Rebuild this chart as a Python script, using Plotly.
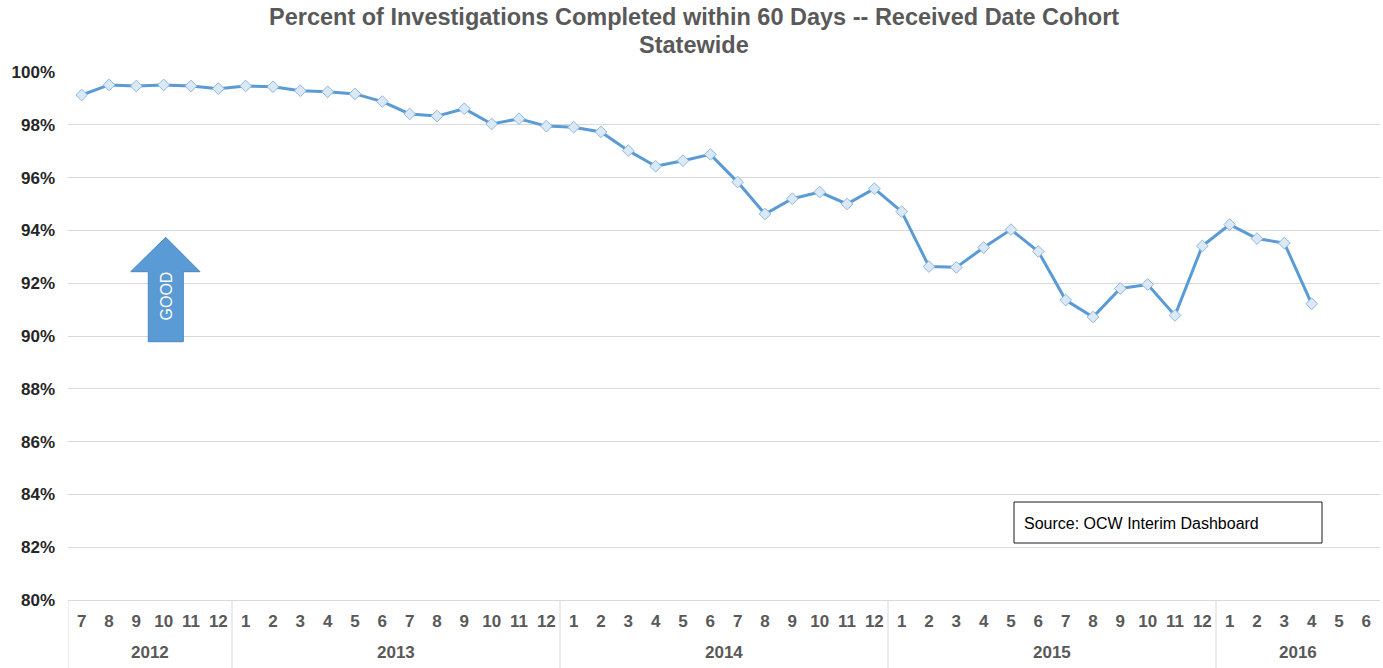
import plotly.graph_objects as go

# ---- data ----
years = ["2012"] * 6 + ["2013"] * 12 + ["2014"] * 12 + ["2015"] * 12 + ["2016"] * 6
months = ([str(m) for m in range(7, 13)] + [str(m) for m in range(1, 13)] * 3
          + [str(m) for m in range(1, 7)])
pct_completed = [
    99.13, 99.51, 99.47, 99.51, 99.47, 99.37,
    99.47, 99.44, 99.29, 99.25, 99.17, 98.88, 98.41, 98.33, 98.61, 98.03, 98.23, 97.95,
    97.91, 97.73, 97.02, 96.43, 96.64, 96.88, 95.83, 94.62, 95.20, 95.45, 95.00, 95.58,
    94.71, 92.63, 92.60, 93.35, 94.03, 93.20, 91.36, 90.72, 91.80, 91.95, 90.78, 93.41,
    94.22, 93.69, 93.52, 91.22,
]
y_ticks = list(range(80, 101, 2))
y_ticklabels = [f"{v}%" for v in y_ticks]
title_lines = ["Percent of Investigations Completed within 60 Days -- Received Date Cohort",
               "Statewide"]
source_text = "Source: OCW Interim Dashboard"

W, H = 1383, 668
L, R, T, B = 68, 3, 72, 68
FONT = "Arial, Liberation Sans, sans-serif"

n = len(months)
xi = list(range(n))


def px_x(p):
    return (p - L) / (W - L - R)


def px_y(p):
    return 1 - (p - T) / (H - T - B)


fig = go.Figure()
fig.add_trace(go.Scatter(
    x=xi[:len(pct_completed)], y=pct_completed, mode="lines+markers",
    line=dict(color="#5b9bd5", width=3),
    marker=dict(symbol="diamond", size=9, color="#dbe8f6",
                line=dict(color="#8fb8e2", width=1)),
    showlegend=False, hoverinfo="y",
))

# year groups: labels and dividers
groups = []
for i, yv in enumerate(years):
    if not groups or groups[-1][0] != yv:
        groups.append([yv, i, i])
    else:
        groups[-1][2] = i
for yv, a, b in groups:
    fig.add_annotation(text=yv, x=(a + b) / 2, xref="x", y=px_y(652), yref="paper",
                       showarrow=False, yanchor="middle",
                       font=dict(family=FONT, size=17, color="#595959", weight="bold"))
    fig.add_shape(type="line", xref="x", yref="paper", x0=a - 0.5, x1=a - 0.5,
                  y0=0, y1=px_y(H + 2), line=dict(color="#d9d9d9", width=1))

# GOOD arrow
arrow = [(165.7, 237.3), (200, 271.7), (183.3, 271.7), (183.3, 341.7),
         (148.3, 341.7), (148.3, 271.7), (130.7, 271.7)]
path = "M " + " L ".join(f"{px_x(x):.5f},{px_y(y):.5f}" for x, y in arrow) + " Z"
fig.add_shape(type="path", path=path, xref="paper", yref="paper",
              fillcolor="#5b9bd5", line=dict(color="#4a86bd", width=1))
fig.add_annotation(text="GOOD", x=px_x(155), y=px_y(296), xref="paper", yref="paper",
                   showarrow=False, textangle=-90,
                   font=dict(family=FONT, size=16, color="white"))

# source box
fig.add_shape(type="rect", xref="paper", yref="paper",
              x0=px_x(1014), x1=px_x(1322), y0=px_y(543), y1=px_y(502),
              line=dict(color="#1a1a1a", width=1), fillcolor="white")
fig.add_annotation(text=source_text, x=px_x(1022), y=px_y(523), xref="paper", yref="paper",
                   xanchor="left", yanchor="middle", showarrow=False,
                   font=dict(family=FONT, size=16, color="black"))

# title lines
for txt, ypx in zip(title_lines, [17, 45]):
    fig.add_annotation(text=txt, x=px_x(694), xref="paper", y=px_y(ypx), yref="paper",
                       showarrow=False, xanchor="center", yanchor="middle",
                       font=dict(family=FONT, size=23.5, color="#595959", weight="bold"))

fig.update_layout(
    width=W, height=H,
    margin=dict(l=L, r=R, t=T, b=B, autoexpand=False),
    paper_bgcolor="white", plot_bgcolor="white",
    font=dict(family=FONT),
)
fig.update_yaxes(
    range=[80, 100], tickvals=y_ticks, ticktext=y_ticklabels,
    showgrid=True, gridcolor="#d9d9d9", gridwidth=1, automargin=False,
    zeroline=False, showline=False, ticks="", ticklabelstandoff=12,
    tickfont=dict(family=FONT, size=17, color="#262626", weight="bold"),
)
fig.update_xaxes(
    range=[-0.5, n - 0.5], tickvals=xi, ticktext=months, automargin=False,
    showgrid=False, ticks="", zeroline=False,
    showline=True, linecolor="#d9d9d9", linewidth=1, ticklabelstandoff=6,
    tickfont=dict(family=FONT, size=17, color="#595959", weight="bold"),
)

fig.write_html("out.html", config={"displayModeBar": False},
               post_script="document.body.style.margin='0';")
